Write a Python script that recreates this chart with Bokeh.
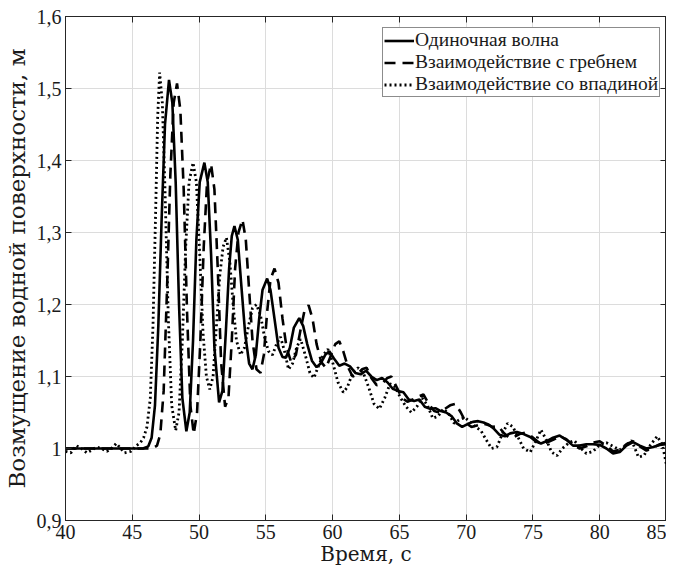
from bokeh.plotting import figure
from bokeh.models import (FixedTicker, CustomJSTickFormatter, LinearAxis, Range1d,
                          Legend, LegendItem)
from bokeh.embed import file_html
from bokeh.resources import INLINE

# ---------------- data ----------------
t_solid = [40.0, 41.0, 42.0, 43.0, 44.0, 45.0, 45.8, 46.2, 46.45, 46.7, 46.95, 47.2, 47.45, 47.75,
           48.0, 48.25, 48.5, 48.75, 49.05, 49.3, 49.55, 49.8, 50.05, 50.4, 50.65, 50.9, 51.15,
           51.5, 51.75, 52.0, 52.25, 52.45, 52.65, 52.9, 53.15, 53.45, 53.75, 54.0, 54.25, 54.5,
           54.75, 55.1, 55.35, 55.65, 55.95, 56.25, 56.5, 56.8, 57.1, 57.5, 57.8, 58.1, 58.45,
           58.8, 59.1, 59.45, 59.75, 60.1, 60.5, 60.9, 61.3, 61.7, 62.1, 62.5, 62.9, 63.3, 63.7,
           64.1, 64.5, 64.9, 65.3, 65.7, 66.1, 66.5, 66.9, 67.3, 67.7, 68.1, 68.5, 68.9, 69.3,
           69.7, 70.1, 70.5, 70.9, 71.3, 71.7, 72.1, 72.5, 72.9, 73.3, 73.8, 74.3, 74.8, 75.2,
           75.6, 76.0, 76.5, 77.0, 77.5, 78.0, 78.5, 79.0, 79.5, 80.0, 80.5, 81.0, 81.5, 82.0,
           82.5, 83.0, 83.5, 84.0, 84.5, 85.0]
y_solid = [1.000, 1.000, 1.000, 1.000, 1.000, 1.000, 1.000, 1.003, 1.015, 1.06, 1.17, 1.32, 1.45,
           1.512, 1.48, 1.37, 1.20, 1.07, 1.024, 1.05, 1.15, 1.29, 1.37, 1.397, 1.37, 1.27, 1.14,
           1.064, 1.08, 1.16, 1.25, 1.295, 1.309, 1.29, 1.23, 1.16, 1.118, 1.110, 1.13, 1.18,
           1.22, 1.236, 1.22, 1.18, 1.14, 1.127, 1.126, 1.14, 1.168, 1.181, 1.17, 1.145, 1.122,
           1.113, 1.118, 1.13, 1.135, 1.125, 1.115, 1.118, 1.114, 1.105, 1.103, 1.108, 1.100,
           1.095, 1.098, 1.092, 1.083, 1.080, 1.078, 1.068, 1.066, 1.068, 1.058, 1.055, 1.056,
           1.052, 1.050, 1.045, 1.035, 1.030, 1.034, 1.037, 1.038, 1.036, 1.033, 1.027, 1.019,
           1.017, 1.021, 1.023, 1.020, 1.016, 1.010, 1.007, 1.010, 1.015, 1.018, 1.012, 1.004,
           1.004, 1.006, 1.006, 1.005, 1.000, 0.993, 0.995, 1.004, 1.009, 1.004, 1.000, 1.002,
           1.005, 1.006]

t_crest = [40.0, 46.5, 46.85, 47.1, 47.35, 47.6, 47.85, 48.1, 48.35, 48.6, 48.85, 49.1, 49.35,
           49.6, 49.85, 50.1, 50.35, 50.6, 50.9, 51.15, 51.4, 51.65, 51.95, 52.2, 52.45, 52.7,
           52.95, 53.25, 53.5, 53.75, 54.0, 54.3, 54.6, 54.85, 55.1, 55.35, 55.65, 55.95, 56.25,
           56.55, 56.9, 57.25, 57.6, 57.9, 58.2, 58.5, 58.8, 59.15, 59.5, 59.85, 60.2, 60.5, 60.8,
           61.15, 61.5, 61.85, 62.2, 62.55, 62.9, 63.3, 63.7, 64.1, 64.4, 64.8, 65.2, 65.6, 66.0,
           66.4, 66.8, 67.2, 67.6, 68.0, 68.4, 68.8, 69.2, 69.6, 70.0, 70.4, 70.8, 71.2, 71.6,
           72.0, 72.4, 72.8, 73.2, 73.6, 74.0, 74.4, 74.8, 75.2, 75.6, 76.0, 76.5, 77.0, 77.5,
           78.0, 78.5, 79.0, 79.5, 80.0, 80.5, 81.0, 81.5, 82.0, 82.5, 83.0, 83.5, 84.0, 84.5, 85.0]
y_crest = [1.000, 1.000, 1.004, 1.02, 1.08, 1.22, 1.38, 1.48, 1.507, 1.47, 1.36, 1.19, 1.06,
           1.02, 1.05, 1.15, 1.28, 1.37, 1.395, 1.36, 1.25, 1.12, 1.058, 1.07, 1.15, 1.25, 1.30,
           1.318, 1.29, 1.22, 1.15, 1.11, 1.105, 1.13, 1.19, 1.235, 1.250, 1.23, 1.18, 1.14,
           1.12, 1.13, 1.165, 1.192, 1.199, 1.18, 1.145, 1.12, 1.112, 1.128, 1.145, 1.149, 1.135,
           1.113, 1.100, 1.103, 1.110, 1.112, 1.098, 1.088, 1.090, 1.098, 1.100, 1.085, 1.070,
           1.065, 1.068, 1.072, 1.075, 1.062, 1.052, 1.050, 1.055, 1.060, 1.062, 1.050, 1.035,
           1.030, 1.032, 1.035, 1.033, 1.030, 1.031, 1.022, 1.015, 1.016, 1.020, 1.022, 1.018,
           1.012, 1.006, 1.008, 1.012, 1.017, 1.013, 1.005, 1.000, 1.003, 1.008, 1.010, 1.004,
           0.996, 0.998, 1.006, 1.010, 1.003, 0.997, 1.001, 1.006, 1.008]

t_trough = [40.0, 40.4, 40.8, 41.2, 41.6, 42.0, 42.3, 42.7, 43.1, 43.5, 43.8, 44.1, 44.4, 44.9,
            45.3, 45.6, 45.85, 46.1, 46.35, 46.55, 46.75, 46.9, 47.05, 47.25, 47.45, 47.7, 47.95,
            48.25, 48.5, 48.75, 49.0, 49.25, 49.55, 49.8, 50.05, 50.3, 50.55, 50.8, 51.05, 51.3,
            51.55, 51.8, 52.05, 52.3, 52.55, 52.8, 53.1, 53.4, 53.7, 54.0, 54.3, 54.6, 54.9, 55.2,
            55.5, 55.8, 56.1, 56.4, 56.7, 57.0, 57.3, 57.6, 57.95, 58.3, 58.6, 58.95, 59.3, 59.65,
            60.0, 60.4, 60.8, 61.1, 61.5, 61.9, 62.3, 62.7, 63.1, 63.5, 63.9, 64.3, 64.7, 65.1,
            65.5, 65.9, 66.3, 66.7, 67.1, 67.5, 67.9, 68.3, 68.7, 69.1, 69.5, 69.9, 70.3, 70.7,
            71.1, 71.5, 71.9, 72.3, 72.7, 73.1, 73.5, 73.9, 74.3, 74.8, 75.2, 75.6, 76.0, 76.4,
            76.8, 77.2, 77.7, 78.1, 78.5, 79.0, 79.5, 80.0, 80.5, 81.0, 81.5, 82.0, 82.4, 82.9,
            83.3, 83.8, 84.3, 84.7, 85.0]
y_trough = [0.996, 0.994, 1.004, 1.000, 0.994, 0.998, 1.002, 1.000, 0.996, 1.001, 1.007, 1.001,
            0.994, 0.996, 1.004, 1.008, 1.015, 1.03, 1.07, 1.17, 1.33, 1.46, 1.522, 1.48, 1.36,
            1.18, 1.06, 1.025, 1.05, 1.15, 1.28, 1.37, 1.397, 1.37, 1.27, 1.16, 1.10, 1.082,
            1.10, 1.17, 1.24, 1.28, 1.293, 1.26, 1.20, 1.15, 1.13, 1.14, 1.17, 1.195, 1.20,
            1.185, 1.155, 1.135, 1.13, 1.145, 1.155, 1.135, 1.110, 1.118, 1.14, 1.152, 1.13,
            1.105, 1.098, 1.115, 1.13, 1.138, 1.12, 1.092, 1.078, 1.085, 1.105, 1.112, 1.105,
            1.085, 1.062, 1.055, 1.07, 1.09, 1.085, 1.07, 1.058, 1.050, 1.058, 1.070, 1.060,
            1.042, 1.045, 1.055, 1.048, 1.035, 1.040, 1.043, 1.037, 1.030, 1.025, 1.012, 1.000,
            1.002, 1.020, 1.035, 1.030, 1.015, 1.000, 0.995, 1.010, 1.026, 1.012, 0.995, 0.990,
            1.000, 1.008, 1.011, 1.002, 0.993, 0.996, 1.005, 1.008, 1.003, 0.998, 1.005, 1.011,
            0.988, 0.990, 1.005, 1.017, 1.005, 0.977]

x_ticks = [40, 45, 50, 55, 60, 65, 70, 75, 80, 85]
y_ticks = [0.9, 1.0, 1.1, 1.2, 1.3, 1.4, 1.5, 1.6]
labels = ["Одиночная волна", "Взаимодействие с гребнем", "Взаимодействие со впадиной"]
x_label = "Время, с"
y_label = "Возмущение водной поверхности, м"

FONT = "Liberation Serif"
LFONT = "DejaVu Serif"
AXC = "#262626"
TXT = "#1a1a1a"

p = figure(width=666, height=568, output_backend="svg", toolbar_location=None,
           x_range=Range1d(40, 85), y_range=Range1d(0.9, 1.6),
           min_border_left=65, min_border_right=0, min_border_top=16, min_border_bottom=38)
p.background_fill_color = "white"
p.border_fill_color = "white"
p.outline_line_color = AXC
p.outline_line_width = 1

fmt = CustomJSTickFormatter(code="""
var s = tick.toFixed(1);
if (s.endsWith('.0')) { s = s.slice(0, -2); }
return s.replace('.', ',');
""")

for ax in (p.xaxis[0], p.yaxis[0]):
    ax.major_tick_in = 6
    ax.major_tick_out = 0
    ax.minor_tick_line_color = None
    ax.axis_line_color = AXC
    ax.major_tick_line_color = AXC
    ax.major_label_text_font = FONT
    ax.major_label_text_font_size = "20px"
    ax.major_label_text_color = TXT
    ax.axis_label_text_font = LFONT
    ax.axis_label_text_font_style = "normal"
    ax.axis_label_text_color = TXT

p.xaxis.axis_label_text_font_size = "20px"
p.yaxis.axis_label_text_font_size = "23px"
p.xaxis.ticker = FixedTicker(ticks=x_ticks)
p.yaxis.ticker = FixedTicker(ticks=y_ticks)
p.yaxis.formatter = fmt
p.xaxis.axis_label = x_label
p.yaxis.axis_label = y_label
p.xaxis.major_label_standoff = 4
p.yaxis.major_label_standoff = 4
p.xaxis.axis_label_standoff = 0
p.yaxis.axis_label_standoff = 4

blank = CustomJSTickFormatter(code="return '';")
top = LinearAxis(ticker=FixedTicker(ticks=x_ticks), formatter=blank, major_tick_in=6, major_tick_out=0,
                 minor_tick_line_color=None, axis_line_color=AXC, major_tick_line_color=AXC,
                 major_label_text_font_size="0px", major_label_standoff=0)
right = LinearAxis(ticker=FixedTicker(ticks=y_ticks), formatter=blank, major_tick_in=6, major_tick_out=0,
                   minor_tick_line_color=None, axis_line_color=AXC, major_tick_line_color=AXC,
                   major_label_text_font_size="0px", major_label_standoff=0)
p.add_layout(top, "above")
p.add_layout(right, "right")

p.xgrid.ticker = FixedTicker(ticks=x_ticks)
p.ygrid.ticker = FixedTicker(ticks=y_ticks)
p.grid.grid_line_color = "#dcdcdc"
p.grid.grid_line_width = 1

r1 = p.line(t_solid, y_solid, line_color="black", line_width=2.6)
r2 = p.line(t_crest, y_crest, line_color="black", line_width=2.6, line_dash="11 7")
r3 = p.line(t_trough, y_trough, line_color="black", line_width=2.8, line_dash="2 3")

legend = Legend(items=[LegendItem(label=labels[0], renderers=[r1]),
                       LegendItem(label=labels[1], renderers=[r2]),
                       LegendItem(label=labels[2], renderers=[r3])],
                location=(317, 423))
legend.label_text_font = FONT
legend.label_text_font_size = "19.5px"
legend.label_text_color = TXT
legend.glyph_width = 30
legend.glyph_height = 19
legend.label_standoff = 1
legend.spacing = 0
legend.padding = 1
legend.margin = 0
legend.label_height = 19
legend.border_line_color = TXT
legend.border_line_width = 1
legend.background_fill_alpha = 1
p.add_layout(legend)

open("out.html", "w").write(file_html(p, INLINE))
